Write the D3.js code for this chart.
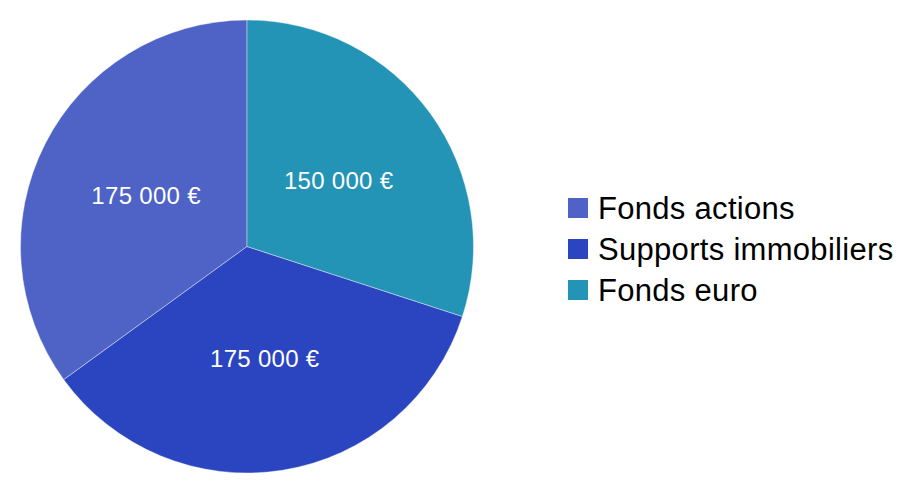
<!DOCTYPE html>
<html><head><meta charset="utf-8">
<script src="https://cdn.jsdelivr.net/npm/d3@7"></script>
<style>body{margin:0;background:#fff}svg{display:block}</style>
</head><body>
<svg id="c" width="916" height="494"></svg>
<script>
const categories = ["Fonds actions", "Supports immobiliers", "Fonds euro"];
const values = [175000, 175000, 150000];
const colors = ["#4f62c5", "#2a45bf", "#2393b6"];

const W = 916, H = 494, cx = 247, cy = 246.5, R = 226.5;
const svg = d3.select("#c");
const data = categories.map((c, i) => ({cat: c, value: values[i], color: colors[i]}));
const pie = d3.pie().sort(null).value(d => d.value).startAngle(2 * Math.PI).endAngle(0);
const arc = d3.arc().innerRadius(0).outerRadius(R);
const arcs = pie(data);
const fmt = d3.formatLocale({decimal: ",", thousands: " ", grouping: [3], currency: ["", " €"]}).format("$,.0f");

const g = svg.append("g").attr("transform", `translate(${cx},${cy})`);
g.selectAll("path").data(arcs).join("path")
  .attr("d", arc).attr("fill", d => d.data.color)
  .attr("stroke", "#fff").attr("stroke-width", 0.4);
g.selectAll("text").data(arcs).join("text")
  .attr("transform", d => `translate(${arc.centroid(d)})`)
  .attr("text-anchor", "middle").attr("dy", "0.36em")
  .attr("fill", "#fff").attr("font-family", "Liberation Sans, Arial, sans-serif")
  .attr("font-size", 24).attr("letter-spacing", 0.3)
  .text(d => fmt(d.data.value));

const lg = svg.append("g").attr("transform", "translate(568,208)");
const row = lg.selectAll("g").data(data).join("g").attr("transform", (d, i) => `translate(0,${i * 41})`);
row.append("rect").attr("x", 0).attr("y", -10).attr("width", 20).attr("height", 20).attr("fill", d => d.color);
row.append("text").attr("x", 30).attr("y", 0).attr("dy", "0.36em")
  .attr("font-family", "Liberation Sans, Arial, sans-serif").attr("font-size", 31).attr("letter-spacing", 0.3)
  .attr("fill", "#000").text(d => d.cat);
</script>
</body></html>
